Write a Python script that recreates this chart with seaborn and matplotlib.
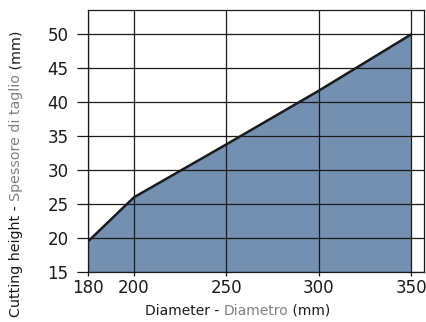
import numpy as np
import pandas as pd
import matplotlib
matplotlib.use("Agg")
import matplotlib.pyplot as plt
import seaborn as sns

# =====================================
# DATA
# =====================================

diameter = [180, 200, 250, 300, 350]
cut_height = [19.5, 26.0, 33.8, 41.7, 50.0]

x_ticks = [180, 200, 250, 300, 350]
y_ticks = [15, 20, 25, 30, 35, 40, 45, 50]

xlabel_parts = [("Diameter - ", "#1a1a1a"), ("Diametro", "#808080"), (" (mm)", "#1a1a1a")]
ylabel_parts = [("Cutting height - ", "#1a1a1a"), ("Spessore di taglio", "#808080"), (" (mm)", "#1a1a1a")]

FILL = "#7490b0"
INK = "#1a1a1a"

df = pd.DataFrame({"diameter": diameter, "height": cut_height})

# =====================================
# STYLE
# =====================================

sns.set_style("white")
plt.rcParams["font.family"] = ["DejaVu Sans"]

fig = plt.figure(figsize=(4.27, 3.22), dpi=100)
ax = fig.add_axes([88 / 427, 50 / 322, 336 / 427, 262 / 322])

# the 180-200 segment is drawn wider than the rest in the original
K = 46 / 37


def fwd(x):
    x = np.asarray(x, dtype=float)
    return np.where(x < 200, 200 - (200 - x) * K, x)


def inv(x):
    x = np.asarray(x, dtype=float)
    return np.where(x < 200, 200 - (200 - x) / K, x)


ax.set_xscale("function", functions=(fwd, inv))

# =====================================
# PLOT
# =====================================

ax.fill_between(df["diameter"], 15, df["height"], color=FILL, lw=0, zorder=1)
sns.lineplot(data=df, x="diameter", y="height", ax=ax, color=INK, lw=1.8, zorder=3)

ax.set_xlim(180, 357)
ax.set_ylim(15, 53.6)
ax.set_xticks(x_ticks)
ax.set_yticks(y_ticks)
ax.set_xticklabels([str(v) for v in x_ticks])
ax.set_yticklabels([str(v) for v in y_ticks])
ax.set_xlabel("")
ax.set_ylabel("")

ax.grid(True, color=INK, lw=0.9, zorder=2)
ax.set_axisbelow(False)
for s in ax.spines.values():
    s.set_color(INK)
    s.set_linewidth(0.9)
    s.set_visible(True)

ax.tick_params(axis="y", left=True, length=8, width=0.9, color=INK, pad=6,
               labelsize=12, labelcolor=INK)
ax.tick_params(axis="x", bottom=True, length=3, width=0.9, color=INK, pad=2,
               labelsize=12, labelcolor=INK)

# =====================================
# TWO-TONE LABELS
# =====================================

prev = ax.annotate(xlabel_parts[0][0], xy=(145 / 427, 4 / 322), xycoords="figure fraction",
                   color=xlabel_parts[0][1], fontsize=10, ha="left", va="bottom")
for txt, col in xlabel_parts[1:]:
    prev = ax.annotate(txt, xy=(1, 0), xycoords=prev, color=col, fontsize=10,
                       ha="left", va="bottom")

prev = ax.annotate(ylabel_parts[0][0], xy=(9 / 427, 5 / 322), xycoords="figure fraction",
                   color=ylabel_parts[0][1], fontsize=10.3, rotation=90,
                   ha="left", va="bottom")
for txt, col in ylabel_parts[1:]:
    prev = ax.annotate(txt, xy=(0, 1), xycoords=prev, color=col, fontsize=10.3,
                       rotation=90, ha="left", va="bottom")

fig.savefig("out.png", dpi=100)
